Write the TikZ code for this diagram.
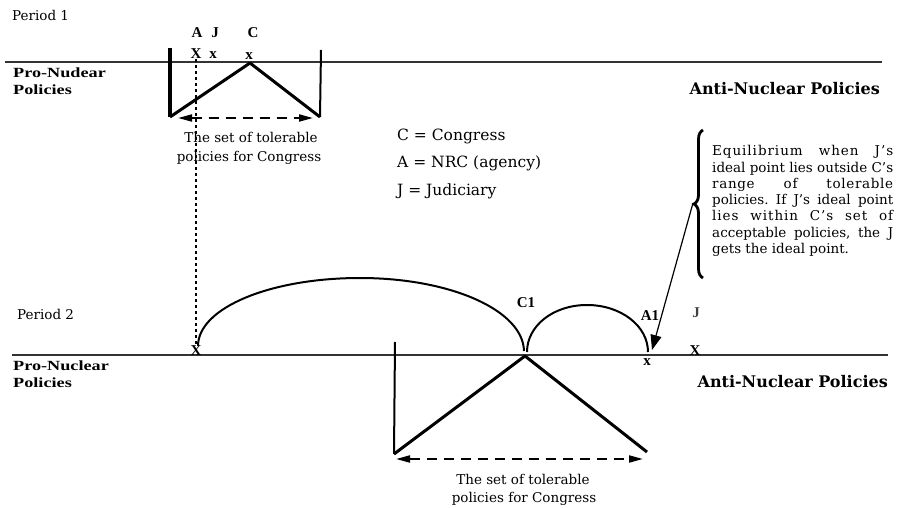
\documentclass[tikz,border=0pt]{standalone}
\usepackage{fontspec}
\setmainfont{DejaVu Serif}
\newfontfamily\lbfont{Liberation Serif}
\newfontfamily\wbfont{Liberation Serif}[FakeStretch=1.3]
\usetikzlibrary{arrows.meta,decorations.pathreplacing}
\frenchspacing
\tikzset{
  axis/.style={line width=2.5pt, draw=black!80},
  vee/.style={line width=3pt, line join=round},
  thinbar/.style={line width=2pt},
  dasharrow/.style={line width=2pt, dash pattern=on 10pt off 7pt,
    {Triangle[length=14pt,width=7pt]}-{Triangle[length=14pt,width=7pt]}},
  dotline/.style={line width=2pt, dash pattern=on 2.5pt off 3.5pt},
  curve/.style={line width=2pt},
  txt/.style={inner sep=0pt, font=\fontsize{13.5}{16}\selectfont},
  legend/.style={inner sep=0pt, font=\fontsize{15.5}{18}\selectfont},
  bigbold/.style={inner sep=0pt, font=\fontsize{16}{19}\selectfont\bfseries},
  probold/.style={inner sep=0pt, font=\fontsize{14}{16}\wbfont\bfseries},
  lab/.style={inner sep=0pt, font=\fontsize{15}{17}\lbfont\bfseries},
  xmark/.style={inner sep=0pt, font=\fontsize{15}{17}\lbfont\bfseries},
  brtxt/.style={inner sep=0pt, anchor=base west, font=\fontsize{13.5}{16}\selectfont},
}
\begin{document}
\begin{tikzpicture}[x=1pt,y=-1pt]
\useasboundingbox (0,0) rectangle (898,508);

% ---------------- Period 1 ----------------
\node[txt, anchor=base west] (per1) at (12,21) {Period 1};
\coordinate (ax1a) at (5,62);
\coordinate (ax1b) at (882,62);
\draw[axis] (ax1a) -- (ax1b);

\node[probold, anchor=base west] (pro1a) at (13,78) {Pro-Nudear};
\node[probold, anchor=base west] (pro1b) at (13,95) {Policies};
\node[bigbold, anchor=base east] (anti1) at (880,95) {Anti-Nuclear Policies};

\coordinate (p1lt) at (170,48);
\coordinate (p1lb) at (170,117);
\coordinate (p1c) at (250,63);
\coordinate (p1rb) at (320,117);
\coordinate (p1rt) at (321,50);
\draw[line width=4pt] (p1lt) -- (p1lb);
\draw[vee] (p1lb) -- (p1c) -- (p1rb);
\draw[thinbar] (p1rb) -- (p1rt);

\coordinate (d1l) at (178,118);
\coordinate (d1r) at (313,118);
\draw[dasharrow] (d1l) -- (d1r);

\node[lab, anchor=base] (labA) at (197,38) {A};
\node[lab, anchor=base] (labJ) at (215,38) {J};
\node[lab, anchor=base] (labC) at (253,38) {C};
\node[xmark, anchor=base] (xA) at (196,59) {X};
\node[xmark, anchor=base] (xJ) at (213,59) {x};
\node[xmark, anchor=base] (xC) at (249,60) {x};

\node[txt, anchor=base] (tol1a) at (251,143) {The set of tolerable};
\node[txt, anchor=base] (tol1b) at (249,162) {policies for Congress};

% legend
\node[legend, anchor=base west] (legC) at (397,141) {C = Congress};
\node[legend, anchor=base west] (legA) at (397,168) {A = NRC (agency)};
\node[legend, anchor=base west] (legJ) at (397,196) {J = Judiciary};

% brace and explanation
\coordinate (brb) at (703,278);
\coordinate (brt) at (703,130);
\draw[line width=2.8pt, decorate, decoration={brace, amplitude=9pt}] (brb) -- (brt);
\coordinate (brtip) at (693,203);
\node[brtxt] (e1) at (712,156) {\makebox[181pt][s]{\addfontfeature{LetterSpace=7}Equilibrium when J’s}};
\node[brtxt] (e2) at (712,172.2) {\makebox[181pt][s]{ideal point lies outside C’s}};
\node[brtxt] (e3) at (712,188.4) {\makebox[181pt][s]{\addfontfeature{LetterSpace=5}range of tolerable}};
\node[brtxt] (e4) at (712,204.6) {\makebox[181pt][s]{policies. If J’s ideal point}};
\node[brtxt] (e5) at (712,220.8) {\makebox[181pt][s]{\addfontfeature{LetterSpace=7}lies within C’s set of}};
\node[brtxt] (e6) at (712,237.0) {\makebox[181pt][s]{acceptable policies, the J}};
\node[brtxt] (e7) at (712,253.2) {gets the ideal point.};

% ---------------- Period 2 ----------------
\node[txt, anchor=base west] (per2) at (17,319) {Period 2};
\coordinate (ax2a) at (12,355);
\coordinate (ax2b) at (888,355);
\draw[axis] (ax2a) -- (ax2b);

\node[probold, anchor=base west] (pro2a) at (13,370) {Pro-Nuclear};
\node[probold, anchor=base west] (pro2b) at (13,387) {Policies};
\node[bigbold, anchor=base east] (anti2) at (888,387) {Anti-Nuclear Policies};

\node[xmark, anchor=base] (xA2) at (196,355) {X};
\node[xmark, anchor=base] (xA1) at (647,365) {x};
\node[xmark, anchor=base] (xJ2) at (695,355) {X};

\node[lab, anchor=base] (labC1) at (526,307) {C1};
\node[lab, anchor=base] (labA1) at (650,320) {A1};
\node[lab, anchor=base, text=black!75] (labJ2) at (696,317) {J};

% dotted projection of A
\draw[dotline] (xA.south) -- (xA2.north);

% curves (indifference arcs)
\coordinate (big0) at (198,346);
\coordinate (bigtop) at (360,278);
\coordinate (c1pt) at (524,351);
\draw[curve] (big0) .. controls (198,308) and (270,278) .. (bigtop)
                    .. controls (450,278) and (523,310) .. (c1pt);
\coordinate (sm0) at (527,352);
\coordinate (smtop) at (587,305);
\coordinate (sm1) at (648,352);
\draw[curve] (sm0) .. controls (527,326) and (553,305) .. (smtop)
                   .. controls (621,305) and (648,326) .. (sm1);

% V for period 2
\coordinate (p2lt) at (395,342);
\coordinate (p2lb) at (394,454);
\coordinate (p2c) at (525,356);
\coordinate (p2rb) at (647,452);
\draw[thinbar] (p2lt) -- (p2lb);
\draw[vee] (p2lb) -- (p2c) -- (p2rb);

\coordinate (d2l) at (396,459);
\coordinate (d2r) at (643,459);
\draw[dasharrow] (d2l) -- (d2r);

\node[txt, anchor=base] (tol2a) at (523,484) {The set of tolerable};
\node[txt, anchor=base] (tol2b) at (524,502) {policies for Congress};

% arrow from brace to equilibrium
\coordinate (eqpt) at (652,350);
\draw[line width=1.2pt, -{Triangle[length=15pt,width=11pt]}] (brtip) -- (eqpt);
\end{tikzpicture}
\end{document}
